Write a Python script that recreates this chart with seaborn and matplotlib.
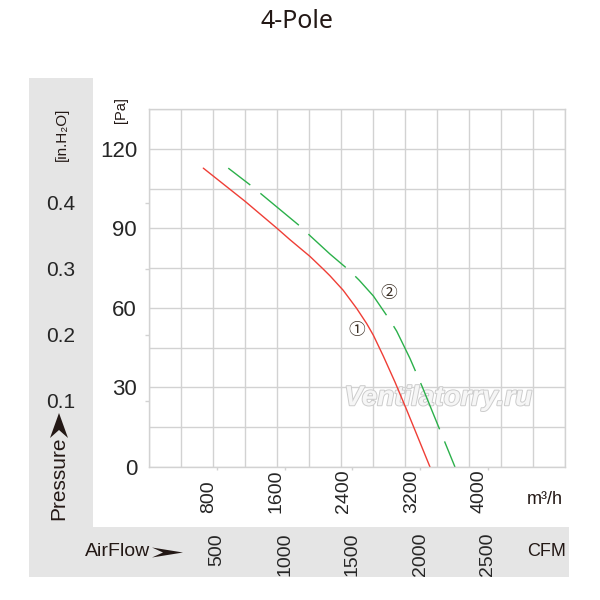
import matplotlib
matplotlib.use("Agg")
import numpy as np
import pandas as pd
import matplotlib.pyplot as plt
import matplotlib.patheffects as pe
from matplotlib.patches import Rectangle, Polygon
from matplotlib.ticker import FixedLocator
import seaborn as sns

# --- data (m3/h vs Pa) ---
flow_1 = [641, 1134, 1508, 1665, 1901, 2058, 2137, 2294, 2452, 2570, 2649,
          2767, 2905, 3043, 3180, 3318]
pres_1 = [112.7, 100.2, 90.1, 85.7, 79.4, 74.6, 72.1, 66.6, 59.8, 54.1, 49.7,
          41.8, 32.0, 21.5, 10.8, 0.0]
flow_2 = [936, 1193, 1319, 1795, 1909, 2137, 2373, 2483, 2649, 2846, 2925,
          3082, 3227, 3448, 3613]
pres_2 = [112.7, 106.4, 103.1, 90.5, 87.0, 80.3, 73.9, 70.4, 64.5, 55.3, 51.2,
          40.9, 30.2, 12.9, 0.0]

m3h_ticks = [800, 1600, 2400, 3200, 4000]
cfm_labels = ["500", "1000", "1500", "2000", "2500"]
pa_ticks = [0, 30, 60, 90, 120]
inh2o_ticks = [0.1, 0.2, 0.3, 0.4]

PA_PER_INH2O = 249.09
XMAX, YMAX = 4912, 135

# --- style ---
TXT = "#231815"
GRID = "#d2d2d2"
PANEL = "#e5e5e5"
RED = "#ef3e36"
GREEN = "#2bb04a"
SANS = ["Liberation Sans", "DejaVu Sans"]

sns.set_theme(style="white")
plt.rcParams["font.family"] = SANS
plt.rcParams["text.color"] = TXT


def fx(px):
    return px / 600


def fy(py):
    return 1 - py / 600


fig = plt.figure(figsize=(6, 6), dpi=100, facecolor="white")
ax = fig.add_axes([fx(149), fy(467), 416 / 600, 358 / 600])

# grey L-shaped label band
fig.add_artist(Rectangle((fx(29), fy(577)), 64 / 600, 499 / 600,
                         transform=fig.transFigure, color=PANEL, zorder=-5, lw=0))
fig.add_artist(Rectangle((fx(29), fy(577)), 540 / 600, 50 / 600,
                         transform=fig.transFigure, color=PANEL, zorder=-5, lw=0))

df1 = pd.DataFrame({"flow": flow_1, "pres": pres_1})
df2 = pd.DataFrame({"flow": flow_2, "pres": pres_2})
sns.lineplot(data=df1, x="flow", y="pres", color=RED, lw=1.0, ax=ax)
sns.lineplot(data=df2, x="flow", y="pres", color=GREEN, lw=1.0,
             linestyle=(16, (36, 9.4)), ax=ax)

ax.set_xlim(0, XMAX)
ax.set_ylim(0, YMAX)
ax.set_xlabel("")
ax.set_ylabel("")

# grid: 13 columns, 15 Pa rows
ax.xaxis.set_minor_locator(FixedLocator(np.linspace(0, XMAX, 14)))
ax.yaxis.set_minor_locator(FixedLocator(np.arange(0, YMAX + 1, 15)))
ax.grid(False)
ax.grid(True, which="minor", axis="x", color=GRID, lw=1.0)
ax.grid(True, which="both", axis="y", color=GRID, lw=1.0)
ax.tick_params(which="minor", length=0)
for s in ax.spines.values():
    s.set_color(GRID)
    s.set_linewidth(1.0)

# Pa axis
ax.set_yticks(pa_ticks)
ax.tick_params(axis="y", length=0, pad=8.6, labelsize=16)

# m3/h axis
ax.set_xticks(m3h_ticks)
ax.tick_params(axis="x", length=2.2, width=1, color=GRID, pad=31, labelsize=14,
               bottom=True)
for lab in ax.get_xticklabels():
    lab.set_rotation(90)
    lab.set_va("bottom")
    lab.set_ha("right")

# in.H2O axis (left, inside the grey band)
sec_y = ax.secondary_yaxis("left", functions=(lambda p: p / PA_PER_INH2O,
                                              lambda h: h * PA_PER_INH2O))
sec_y.set_yticks(inh2o_ticks)
sec_y.tick_params(length=2.9, width=1, color=GRID, pad=50, labelsize=15)
sec_y.spines["left"].set_visible(False)

# CFM row
sec_x = ax.secondary_xaxis("bottom")
sec_x.set_xticks(m3h_ticks, labels=cfm_labels)
sec_x.tick_params(length=0, pad=47.5, labelsize=14)
sec_x.spines["bottom"].set_visible(False)
for lab in sec_x.get_xticklabels():
    lab.set_rotation(90)

# curve markers
ax.text(2452, 51.3, "①", ha="center", va="center", fontsize=12, color="#3a2e24",
        family=["Noto Sans CJK JP", "DejaVu Sans"])
ax.text(2826, 65.6, "②", ha="center", va="center", fontsize=12, color="#3a2e24",
        family=["Noto Sans CJK JP", "DejaVu Sans"])

# watermark
ax.text(0.695, 0.192, "Ventilatorry.ru", transform=ax.transAxes, ha="center",
        va="center", fontsize=20, style="italic", weight="bold", color="#f6f6f6",
        zorder=1, path_effects=[pe.withStroke(linewidth=1.4, foreground="#cccccc")])

# titles and unit labels
fig.text(fx(297), fy(22), "4-Pole", ha="center", va="center", fontsize=18,
         family=["Noto Sans", "DejaVu Sans"], color=TXT)
fig.text(fx(62), fy(134), "[in.H₂O]", rotation=90, ha="center", va="center",
         fontsize=11)
fig.text(fx(121), fy(110), "[Pa]", rotation=90, ha="center", va="center",
         fontsize=10.5)
fig.text(fx(59), fy(520), "Pressure", rotation=90, ha="center", va="bottom",
         fontsize=15)
fig.text(fx(85), fy(552), "AirFlow", ha="left", va="center", fontsize=14)
fig.text(fx(566), fy(552), "CFM", ha="right", va="center", fontsize=13)
fig.text(fx(563), fy(500), "m³/h", ha="right", va="center", fontsize=13)

# arrowheads after "Pressure" and "AirFlow"
up = [(59, 413), (68, 438), (59, 430), (50, 438)]
right = [(183, 552.5), (152, 547.5), (163, 552.5), (152, 557.5)]
for pts in (up, right):
    fig.add_artist(Polygon([(fx(a), fy(b)) for a, b in pts], closed=True,
                           transform=fig.transFigure, color=TXT, lw=0))

fig.savefig("out.png", dpi=100)
